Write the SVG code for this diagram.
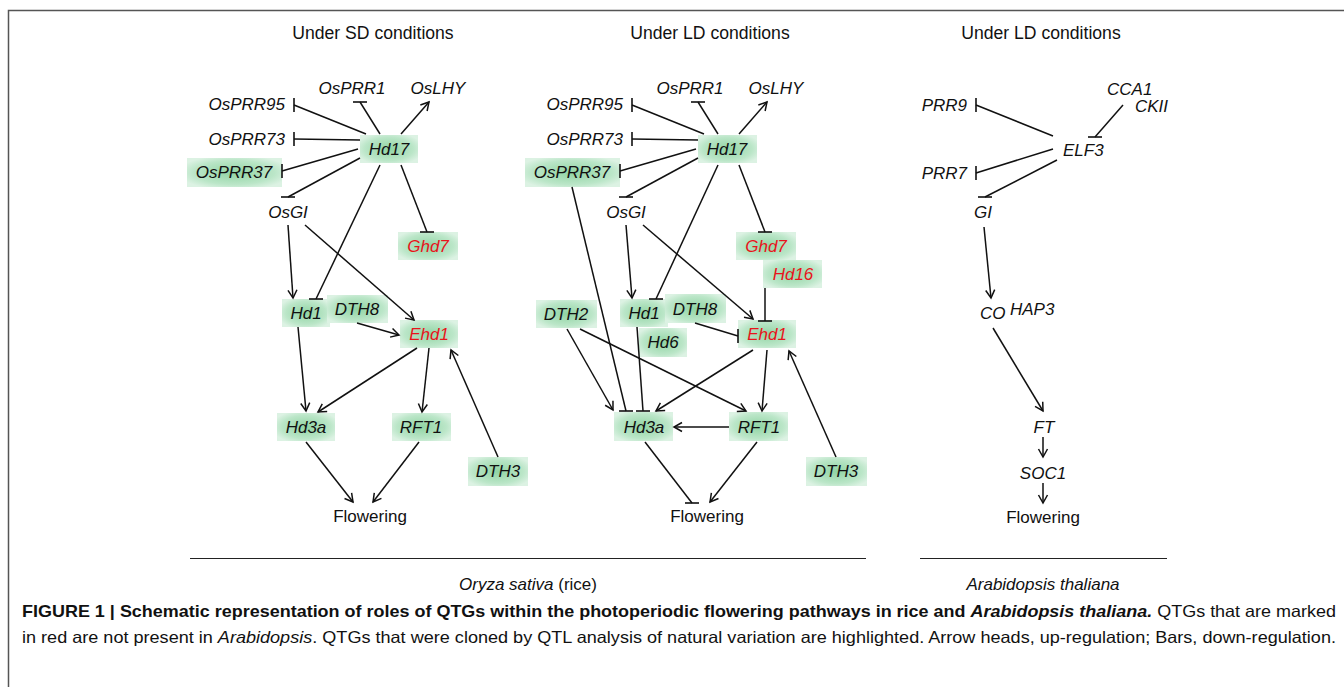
<svg xmlns="http://www.w3.org/2000/svg" width="1344" height="687" viewBox="0 0 1344 687">
<defs>
<radialGradient id="g" cx="50%" cy="50%" r="60%">
<stop offset="0%" stop-color="#90d4a3"/>
<stop offset="70%" stop-color="#bbe6c8"/>
<stop offset="100%" stop-color="#dcf2e3"/>
</radialGradient>
<marker id="ar" viewBox="-10 -6 12 12" refX="0" refY="0" markerWidth="12" markerHeight="12" markerUnits="userSpaceOnUse" orient="auto">
<path d="M-8,-4.5 L0,0 L-8,4.5" fill="none" stroke="#111" stroke-width="1.5"/>
</marker>
<marker id="bv" viewBox="-2 -8 4 16" refX="0" refY="0" markerWidth="4" markerHeight="16" markerUnits="userSpaceOnUse" orient="0">
<path d="M0,-7 L0,7" stroke="#111" stroke-width="1.6"/>
</marker>
<marker id="bh" viewBox="-8 -2 16 4" refX="0" refY="0" markerWidth="16" markerHeight="4" markerUnits="userSpaceOnUse" orient="0">
<path d="M-7,0 L7,0" stroke="#111" stroke-width="1.6"/>
</marker>
</defs>
<style>
.t{font-family:"Liberation Sans",Arial,sans-serif;font-size:17px;fill:#111}
.ti{font-family:"Liberation Sans",Arial,sans-serif;font-size:17.6px;fill:#111;text-anchor:middle}
.i{font-style:italic}
.r{fill:#e8141b}
.m{text-anchor:middle}
.e{text-anchor:end}
.bx{fill:url(#g)}
.c line{stroke:#111;stroke-width:1.5}
.a{marker-end:url(#ar)}
.v{marker-end:url(#bv)}
.h{marker-end:url(#bh)}
.cap{font-family:"Liberation Sans",Arial,sans-serif;font-size:16.5px;fill:#111}
</style>
<rect width="1344" height="687" fill="#fff"/>
<path d="M8.5,687 L8.5,10.5 L1344,10.5" fill="none" stroke="#555" stroke-width="1.5"/>

<g id="titles">
<text class="ti" x="373" y="39">Under SD conditions</text>
<text class="ti" x="710" y="39">Under LD conditions</text>
<text class="ti" x="1041" y="39">Under LD conditions</text>
</g>

<!-- Left panel nodes -->
<g id="L-OsPRR1"><text class="t i m" x="352" y="94">OsPRR1</text></g>
<g id="L-OsLHY"><text class="t i m" x="438" y="94">OsLHY</text></g>
<g id="L-OsPRR95"><text class="t i e" x="285" y="110">OsPRR95</text></g>
<g id="L-OsPRR73"><text class="t i e" x="285" y="145">OsPRR73</text></g>
<g id="L-OsPRR37"><rect class="bx" x="187" y="158" width="95" height="29"/><text class="t i m" x="234" y="178">OsPRR37</text></g>
<g id="L-Hd17"><rect class="bx" x="360" y="135" width="58" height="28"/><text class="t i m" x="389" y="155">Hd17</text></g>
<g id="L-OsGI"><text class="t i m" x="288" y="218">OsGI</text></g>
<g id="L-Ghd7"><rect class="bx" x="398" y="232" width="60" height="28"/><text class="t i m r" x="428" y="252">Ghd7</text></g>
<g id="L-Hd1"><rect class="bx" x="282" y="299" width="48" height="28"/><text class="t i m" x="306" y="319">Hd1</text></g>
<g id="L-DTH8"><rect class="bx" x="327" y="295" width="61" height="28"/><text class="t i m" x="357" y="315">DTH8</text></g>
<g id="L-Ehd1"><rect class="bx" x="400" y="320" width="58" height="28"/><text class="t i m r" x="429" y="340">Ehd1</text></g>
<g id="L-Hd3a"><rect class="bx" x="277" y="413" width="58" height="28"/><text class="t i m" x="306" y="433">Hd3a</text></g>
<g id="L-RFT1"><rect class="bx" x="392" y="413" width="59" height="28"/><text class="t i m" x="421" y="433">RFT1</text></g>
<g id="L-DTH3"><rect class="bx" x="468" y="457" width="60" height="29"/><text class="t i m" x="498" y="477">DTH3</text></g>
<g id="L-Flowering"><text class="t m" x="370" y="522">Flowering</text></g>

<!-- Middle panel nodes -->
<g id="M-OsPRR1"><text class="t i m" x="690" y="94">OsPRR1</text></g>
<g id="M-OsLHY"><text class="t i m" x="776" y="94">OsLHY</text></g>
<g id="M-OsPRR95"><text class="t i e" x="623" y="110">OsPRR95</text></g>
<g id="M-OsPRR73"><text class="t i e" x="623" y="145">OsPRR73</text></g>
<g id="M-OsPRR37"><rect class="bx" x="525" y="158" width="95" height="29"/><text class="t i m" x="572" y="178">OsPRR37</text></g>
<g id="M-Hd17"><rect class="bx" x="698" y="135" width="59" height="28"/><text class="t i m" x="727" y="155">Hd17</text></g>
<g id="M-OsGI"><text class="t i m" x="626" y="218">OsGI</text></g>
<g id="M-Ghd7"><rect class="bx" x="736" y="232" width="60" height="28"/><text class="t i m r" x="766" y="252">Ghd7</text></g>
<g id="M-Hd16"><rect class="bx" x="763" y="260" width="59" height="28"/><text class="t i m r" x="793" y="280">Hd16</text></g>
<g id="M-DTH2"><rect class="bx" x="536" y="300" width="61" height="28"/><text class="t i m" x="566" y="320">DTH2</text></g>
<g id="M-Hd1"><rect class="bx" x="620" y="299" width="48" height="28"/><text class="t i m" x="644" y="319">Hd1</text></g>
<g id="M-DTH8"><rect class="bx" x="665" y="294" width="61" height="29"/><text class="t i m" x="695" y="315">DTH8</text></g>
<g id="M-Hd6"><rect class="bx" x="639" y="328" width="48" height="29"/><text class="t i m" x="663" y="348">Hd6</text></g>
<g id="M-Ehd1"><rect class="bx" x="738" y="320" width="58" height="28"/><text class="t i m r" x="767" y="340">Ehd1</text></g>
<g id="M-Hd3a"><rect class="bx" x="614" y="412" width="59" height="29"/><text class="t i m" x="644" y="433">Hd3a</text></g>
<g id="M-RFT1"><rect class="bx" x="729" y="412" width="59" height="29"/><text class="t i m" x="759" y="433">RFT1</text></g>
<g id="M-DTH3"><rect class="bx" x="806" y="457" width="61" height="29"/><text class="t i m" x="836" y="477">DTH3</text></g>
<g id="M-Flowering"><text class="t m" x="707" y="522">Flowering</text></g>

<!-- Right panel nodes -->
<g id="R-PRR9"><text class="t i e" x="967" y="111">PRR9</text></g>
<g id="R-PRR7"><text class="t i e" x="967" y="179">PRR7</text></g>
<g id="R-CCA1"><text class="t i" x="1107" y="95">CCA1</text></g>
<g id="R-CKII"><text class="t i" x="1135" y="112">CKII</text></g>
<g id="R-ELF3"><text class="t i" x="1063" y="156">ELF3</text></g>
<g id="R-GI"><text class="t i" x="974" y="218">GI</text></g>
<g id="R-CO"><text class="t i" x="980" y="319">CO</text></g>
<g id="R-HAP3"><text class="t i" x="1010" y="315">HAP3</text></g>
<g id="R-FT"><text class="t i m" x="1044" y="433">FT</text></g>
<g id="R-SOC1"><text class="t i m" x="1043" y="479">SOC1</text></g>
<g id="R-Flowering"><text class="t m" x="1043" y="523">Flowering</text></g>

<g id="connectors" class="c">
<!-- left -->
<line class="v" x1="366" y1="134" x2="294" y2="105"/>
<line class="v" x1="360" y1="140" x2="294" y2="139"/>
<line class="v" x1="358" y1="149" x2="282" y2="171"/>
<line class="h" x1="380" y1="134" x2="360" y2="102"/>
<line class="a" x1="401" y1="134" x2="429" y2="102"/>
<line class="h" x1="360" y1="158" x2="288" y2="197"/>
<line class="h" x1="401" y1="165" x2="427" y2="232"/>
<line class="h" x1="380" y1="165" x2="316" y2="299"/>
<line class="a" x1="288" y1="225" x2="293" y2="298"/>
<line class="a" x1="305" y1="225" x2="414" y2="320"/>
<line class="a" x1="357" y1="323" x2="399" y2="335"/>
<line class="a" x1="298" y1="327" x2="306" y2="411"/>
<line class="a" x1="417" y1="348" x2="318" y2="412"/>
<line class="a" x1="429" y1="348" x2="422" y2="412"/>
<line class="a" x1="498" y1="457" x2="451" y2="350"/>
<line class="a" x1="306" y1="442" x2="353" y2="502"/>
<line class="a" x1="419" y1="442" x2="373" y2="502"/>
<!-- middle -->
<line class="v" x1="704" y1="134" x2="632" y2="105"/>
<line class="v" x1="698" y1="140" x2="632" y2="139"/>
<line class="v" x1="696" y1="149" x2="620" y2="171"/>
<line class="h" x1="718" y1="134" x2="698" y2="102"/>
<line class="a" x1="739" y1="134" x2="767" y2="102"/>
<line class="h" x1="698" y1="158" x2="626" y2="197"/>
<line class="h" x1="739" y1="165" x2="765" y2="232"/>
<line class="h" x1="718" y1="165" x2="656" y2="299"/>
<line class="a" x1="626" y1="225" x2="632" y2="298"/>
<line class="a" x1="643" y1="225" x2="753" y2="319"/>
<line class="h" x1="765" y1="288" x2="765" y2="321"/>
<line class="v" x1="695" y1="323" x2="738" y2="336"/>
<line class="h" x1="572" y1="187" x2="626" y2="411"/>
<line class="h" x1="637" y1="327" x2="643" y2="411"/>
<line class="a" x1="567" y1="329" x2="613" y2="410"/>
<line class="a" x1="580" y1="329" x2="746" y2="411"/>
<line class="a" x1="753" y1="350" x2="656" y2="411"/>
<line class="a" x1="767" y1="350" x2="762" y2="411"/>
<line class="a" x1="729" y1="427" x2="674" y2="427"/>
<line class="a" x1="836" y1="457" x2="789" y2="351"/>
<line class="h" x1="645" y1="442" x2="692" y2="503"/>
<line class="a" x1="757" y1="442" x2="710" y2="502"/>
<!-- right -->
<line class="v" x1="1053" y1="136" x2="976" y2="105"/>
<line class="h" x1="1123" y1="105" x2="1095" y2="137"/>
<line class="v" x1="1053" y1="149" x2="976" y2="173"/>
<line class="h" x1="1057" y1="160" x2="985" y2="197"/>
<line class="a" x1="984" y1="227" x2="991" y2="298"/>
<line class="a" x1="993" y1="328" x2="1043" y2="411"/>
<line class="a" x1="1043" y1="437" x2="1043" y2="457"/>
<line class="a" x1="1043" y1="483" x2="1043" y2="503"/>
</g>

<g id="species">
<line x1="190" y1="558.5" x2="866" y2="558.5" stroke="#222" stroke-width="1.2"/>
<line x1="920" y1="558.5" x2="1167" y2="558.5" stroke="#222" stroke-width="1.2"/>
<text class="t m" x="528" y="590"><tspan class="i">Oryza sativa</tspan> (rice)</text>
<text class="t i m" x="1043" y="590">Arabidopsis thaliana</text>
</g>

<g id="caption">
<text class="cap" x="22" y="617" textLength="1314" lengthAdjust="spacingAndGlyphs"><tspan font-weight="bold">FIGURE 1 | Schematic representation of roles of QTGs within the photoperiodic flowering pathways in rice and </tspan><tspan font-weight="bold" font-style="italic">Arabidopsis thaliana.</tspan> QTGs that are marked</text>
<text class="cap" x="22" y="643" textLength="1314" lengthAdjust="spacingAndGlyphs">in red are not present in <tspan font-style="italic">Arabidopsis</tspan>. QTGs that were cloned by QTL analysis of natural variation are highlighted. Arrow heads, up-regulation; Bars, down-regulation.</text>
</g>
</svg>
